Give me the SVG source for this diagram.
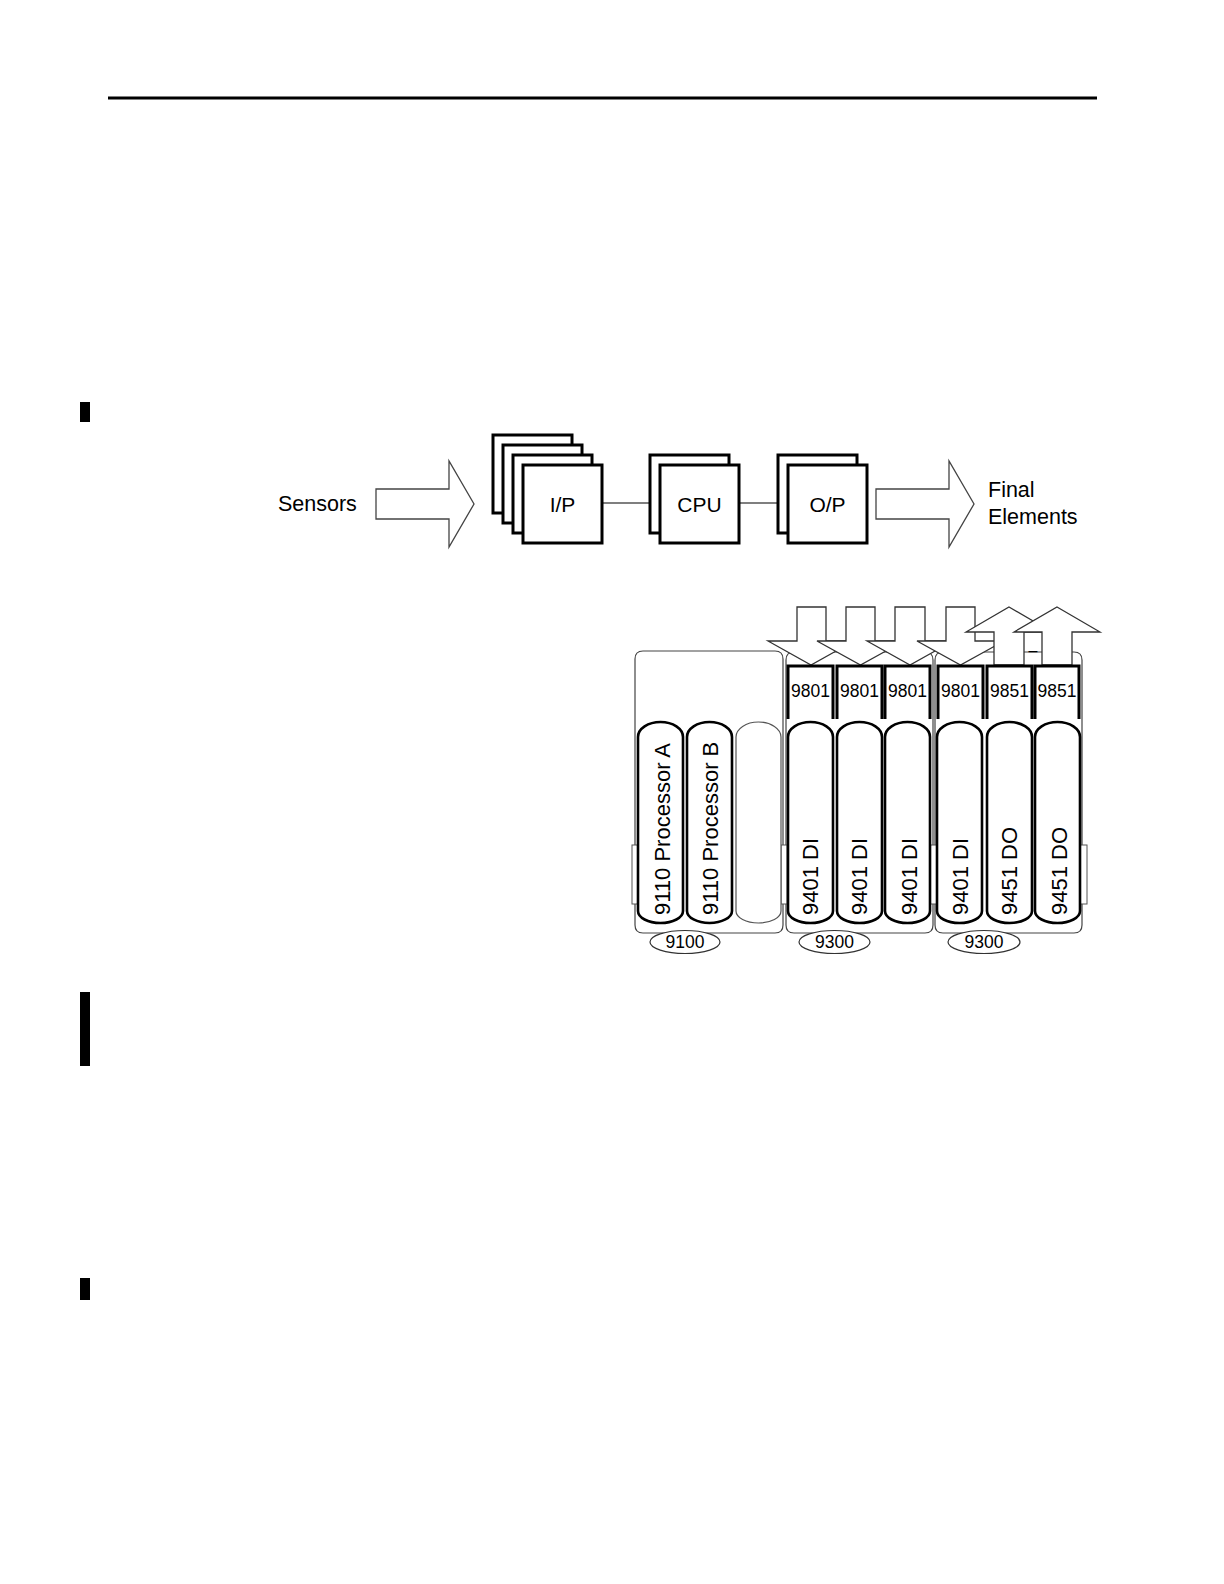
<svg xmlns="http://www.w3.org/2000/svg" width="1224" height="1584" viewBox="0 0 1224 1584">
<style>
text{font-family:"Liberation Sans",Arial,sans-serif;fill:#000}
.lbl{font-size:21.5px}
.box{font-size:21px;text-anchor:middle}
.card{fill:#fff;stroke:#000;stroke-width:3}
.bigarrow{fill:#fff;stroke:#444;stroke-width:1.3}
.link{stroke:#555;stroke-width:1.5;fill:none}
.chassis{fill:#fff;stroke:#444;stroke-width:1.2}
.tab{fill:#fff;stroke:#555;stroke-width:1}
.iarrow{fill:#fff;stroke:#333;stroke-width:1.3;stroke-linejoin:miter}
.mod{fill:#fff;stroke:#000;stroke-width:2.6}
.empty{fill:#fff;stroke:#555;stroke-width:1.2}
.term{fill:none;stroke:#000;stroke-width:3}
.tn{font-size:17.5px;text-anchor:middle}
.vt{font-size:22px}
.ell{fill:#fff;stroke:#333;stroke-width:1.2}
.bar{fill:#000}
</style>
<rect x="108" y="96.5" width="989" height="3" fill="#000"/>
<g id="changebars">
<rect class="bar" x="80" y="402" width="10" height="20"/>
<rect class="bar" x="80" y="992" width="10" height="74"/>
<rect class="bar" x="80" y="1278" width="10" height="22"/>
</g>
<g id="connectors">
<line class="link" x1="602" y1="503" x2="650" y2="503"/>
<line class="link" x1="739" y1="503" x2="778" y2="503"/>
</g>
<g id="sensors">
<text class="lbl" x="278" y="511">Sensors</text>
<polygon class="bigarrow" points="376,489 449,489 449,461 474,504 449,547 449,519 376,519"/>
</g>
<g id="ip">
<rect class="card" x="493" y="435" width="79" height="78"/>
<rect class="card" x="503" y="445" width="79" height="78"/>
<rect class="card" x="513" y="455" width="79" height="78"/>
<rect class="card" x="523" y="465" width="79" height="78"/>
<text class="box" x="562.5" y="511.5">I/P</text>
</g>
<g id="cpu">
<rect class="card" x="650" y="455" width="79" height="78"/>
<rect class="card" x="660" y="465" width="79" height="78"/>
<text class="box" x="699.5" y="511.5">CPU</text>
</g>
<g id="op">
<rect class="card" x="778" y="455" width="79" height="78"/>
<rect class="card" x="788" y="465" width="79" height="78"/>
<text class="box" x="827.5" y="511.5">O/P</text>
</g>
<g id="final">
<polygon class="bigarrow" points="876,489 949,489 949,461 974,504 949,547 949,519 876,519"/>
<text class="lbl" x="988" y="497">Final</text>
<text class="lbl" x="988" y="524">Elements</text>
</g>
<g id="chassis">
<path class="chassis" d="M635,659 Q635,651 643,651 H775 Q783,651 783,659 V925 Q783,933 775,933 H643 Q635,933 635,925 Z"/>
<path class="chassis" d="M786,660 Q786,652 794,652 H925 Q933,652 933,660 V925 Q933,933 925,933 H794 Q786,933 786,925 Z"/>
<path class="chassis" d="M935,660 Q935,652 943,652 H1074 Q1082,652 1082,660 V925 Q1082,933 1074,933 H943 Q935,933 935,925 Z"/>
<rect class="tab" x="632" y="845" width="6" height="59"/>
<rect class="tab" x="781" y="845" width="6" height="59"/>
<rect class="tab" x="930" y="845" width="7" height="59"/>
<rect class="tab" x="1080" y="845" width="7" height="59"/>
</g>
<g id="io-arrows">
<polygon class="iarrow" points="797,607 826,607 826,641 854,641 811,665 768,641 797,641"/>
<polygon class="iarrow" points="846,607 875,607 875,641 904,641 860.5,665 817,641 846,641"/>
<polygon class="iarrow" points="895,607 925,607 925,641 953,641 910,665 867,641 895,641"/>
<polygon class="iarrow" points="946,607 975,607 975,641 1004,641 960.5,665 917,641 946,641"/>
<polygon class="iarrow" points="1009,607 1052,632 1024,632 1024,665 994,665 994,632 966,632"/>
<polygon class="iarrow" points="1057,607 1100,632 1072,632 1072,665 1042,665 1042,632 1014,632"/>
<text x="1033" y="656" font-size="16" text-anchor="middle">–</text>
</g>
<g id="terminations">
<path class="term" d="M788,719 V666 H833 V719"/>
<path class="term" d="M837,719 V666 H882 V719"/>
<path class="term" d="M885,719 V666 H930 V719"/>
<path class="term" d="M938,719 V666 H983 V719"/>
<path class="term" d="M987,719 V666 H1032 V719"/>
<path class="term" d="M1035,719 V666 H1079 V719"/>
<text class="tn" x="810.5" y="697">9801</text>
<text class="tn" x="859.5" y="697">9801</text>
<text class="tn" x="907.5" y="697">9801</text>
<text class="tn" x="960.5" y="697">9801</text>
<text class="tn" x="1009.5" y="697">9851</text>
<text class="tn" x="1057" y="697">9851</text>
</g>
<g id="modules">
<path class="mod" d="M638,737 A22.5,15 0 0 1 683,737 V911 A22.5,12 0 0 1 638,911 Z"/>
<path class="mod" d="M687,737 A22.5,15 0 0 1 732,737 V911 A22.5,12 0 0 1 687,911 Z"/>
<path class="empty" d="M736,737 A22.5,15 0 0 1 781,737 V911 A22.5,12 0 0 1 736,911 Z"/>
<path class="mod" d="M788,737 A22.5,15 0 0 1 833,737 V911 A22.5,12 0 0 1 788,911 Z"/>
<path class="mod" d="M837,737 A22.5,15 0 0 1 882,737 V911 A22.5,12 0 0 1 837,911 Z"/>
<path class="mod" d="M885,737 A22.5,15 0 0 1 930,737 V911 A22.5,12 0 0 1 885,911 Z"/>
<path class="mod" d="M937,737 A22.5,15 0 0 1 982,737 V911 A22.5,12 0 0 1 937,911 Z"/>
<path class="mod" d="M987,737 A22.5,15 0 0 1 1032,737 V911 A22.5,12 0 0 1 987,911 Z"/>
<path class="mod" d="M1035,737 A22.5,15 0 0 1 1080,737 V911 A22.5,12 0 0 1 1035,911 Z"/>
<text class="vt" transform="translate(669.5,915) rotate(-90)">9110 Processor A</text>
<text class="vt" transform="translate(718,915) rotate(-90)">9110 Processor B</text>
<text class="vt" transform="translate(818,915) rotate(-90)">9401 DI</text>
<text class="vt" transform="translate(867,915) rotate(-90)">9401 DI</text>
<text class="vt" transform="translate(916.5,915) rotate(-90)">9401 DI</text>
<text class="vt" transform="translate(968,915) rotate(-90)">9401 DI</text>
<text class="vt" transform="translate(1016.5,915) rotate(-90)">9451 DO</text>
<text class="vt" transform="translate(1066.5,915) rotate(-90)">9451 DO</text>
</g>
<g id="chassis-labels">
<ellipse class="ell" cx="685" cy="942" rx="35" ry="11.5"/>
<text class="tn" x="685" y="948">9100</text>
<ellipse class="ell" cx="834.5" cy="942" rx="35.5" ry="11.5"/>
<text class="tn" x="834.5" y="948">9300</text>
<ellipse class="ell" cx="984" cy="942" rx="36" ry="11.5"/>
<text class="tn" x="984" y="948">9300</text>
</g>
</svg>
